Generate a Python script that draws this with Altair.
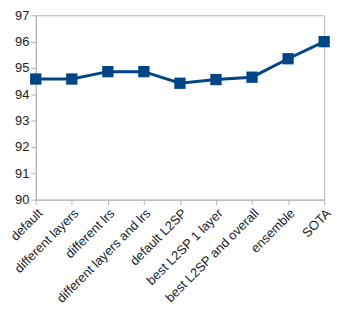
import altair as alt
import pandas as pd

categories = ["default", "different layers", "different lrs", "different layers and lrs",
              "default L2SP", "best L2SP 1 layer", "best L2SP and overall", "ensemble", "SOTA"]
values = [94.58, 94.58, 94.86, 94.86, 94.42, 94.56, 94.65, 95.35, 96.0]

df = pd.DataFrame({"cat": categories, "val": values})

x = alt.X("cat:N", sort=categories, title=None,
          scale=alt.Scale(type="point", padding=0),
          axis=alt.Axis(labelAngle=-45, labelFont="Liberation Sans", labelFontSize=13,
                        labelColor="#222222", domainColor="#b3b3b3", tickColor="#b3b3b3",
                        tickSize=5, labelPadding=2, grid=False))
y = alt.Y("val:Q", title=None, scale=alt.Scale(domain=[90, 97], nice=False, zero=False),
          axis=alt.Axis(values=list(range(90, 98)), labelFont="Liberation Sans", labelFontSize=13,
                        labelColor="#222222", domainColor="#b3b3b3", tickColor="#b3b3b3",
                        tickSize=5, labelPadding=2, grid=False))

line = alt.Chart(df).mark_line(color="#004586", strokeWidth=3).encode(x=x, y=y)
pts = alt.Chart(df).mark_point(shape="square", filled=True, size=130, color="#004586", opacity=1).encode(x=x, y=y)

chart = (line + pts).properties(
    width=291, height=186,
    autosize=alt.AutoSizeParams(type="none"),
    padding={"left": 28, "top": 6, "right": 16, "bottom": 110},
).configure_view(stroke="#b3b3b3", strokeWidth=1)

chart.save("out.html", embed_options={"renderer": "svg", "actions": False})
